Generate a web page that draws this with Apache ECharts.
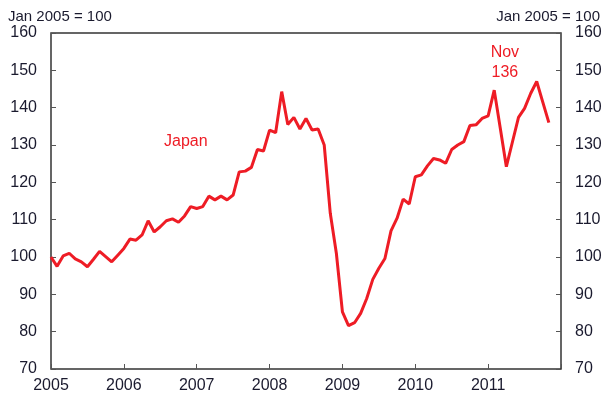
<!DOCTYPE html>
<html>
<head>
<meta charset="utf-8">
<script src="https://cdn.jsdelivr.net/npm/echarts@6/dist/echarts.min.js"></script>
<style>
body{margin:0;background:#fff;}
#chart{width:605px;height:401px;}
</style>
</head>
<body>
<div id="chart"></div>
<script>
// Japan industrial production, monthly from Jan 2005 (index Jan 2005 = 100)
var startYear = 2005;
var v2005 = [100, 97.5, 100.3, 101, 99.5, 98.7, 97.4, 99.4, 101.5, 100.1, 98.7, 100.5];
var v2006 = [102.3, 104.8, 104.5, 105.9, 109.7, 106.7, 108.1, 109.7, 110.2, 109.3, 111, 113.5];
var v2007 = [113, 113.5, 116.3, 115.3, 116.3, 115.3, 116.6, 122.8, 123, 124, 128.8, 128.4];
var v2008 = [134, 133.3, 144.3, 135.5, 137.4, 134.3, 137.1, 134, 134.3, 130, 111.7, 101];
var v2009 = [85.3, 81.6, 82.4, 84.9, 88.9, 94, 97, 99.6, 107, 110.4, 115.5, 114.2];
var v2010 = [121.5, 122, 124.4, 126.4, 126, 125.1, 128.8, 130, 130.9, 135.2, 135.4, 137.1];
var v2011 = [137.8, 144.7, 134.5, 124.2, 130.8, 137.4, 139.8, 143.8, 147, 141.5, 136];
var yTicks = [70, 80, 90, 100, 110, 120, 130, 140, 150, 160];
var unitLabel = "Jan 2005 = 100";

var allValues = [].concat(v2005, v2006, v2007, v2008, v2009, v2010, v2011);
var seriesData = [];
for (var i = 0; i < allValues.length; i++) {
	seriesData.push([i, allValues[i]]);
}

var red = "#ee1c25";
var textColor = "#1a1a2e";
var fontFam = "Liberation Sans, Arial, sans-serif";

var myChart = echarts.init(document.getElementById("chart"));

function yAxisFor(pos) {
	return {
		type: "value",
		position: pos,
		min: yTicks[0],
		max: yTicks[yTicks.length - 1],
		interval: 10,
		splitLine: {show: false},
		axisLine: {show: false},
		axisTick: {show: true, inside: true, length: 5, lineStyle: {color: "#555", width: 1}},
		axisLabel: {margin: 14, color: textColor, fontSize: 16, fontFamily: fontFam}
	};
}

var option = {
	animation: false,
	grid: {
		left: 51,
		right: 44,
		top: 33,
		bottom: 32,
		show: true,
		borderColor: "#333",
		borderWidth: 1.5
	},
	xAxis: {
		type: "value",
		min: 0,
		max: 84,
		interval: 12,
		splitLine: {show: false},
		axisLine: {show: false},
		axisTick: {show: true, inside: true, length: 5, lineStyle: {color: "#555", width: 1}},
		axisLabel: {
			margin: 9,
			color: textColor,
			fontSize: 16,
			fontFamily: fontFam,
			formatter: function (v) {
				return v < 84 ? String(startYear + v / 12) : "";
			}
		}
	},
	yAxis: [yAxisFor("left"), yAxisFor("right")],
	series: [{
		type: "line",
		yAxisIndex: 0,
		data: seriesData,
		symbol: "none",
		lineStyle: {color: red, width: 3},
		markPoint: {
			symbol: "circle",
			symbolSize: 0,
			data: [{
				coord: [allValues.length - 1, allValues[allValues.length - 1]],
				label: {
					show: true,
					formatter: "Nov\n136",
					color: red,
					fontSize: 16,
					fontFamily: fontFam,
					lineHeight: 20,
					align: "center",
					offset: [-44, -60]
				}
			}]
		}
	}],
	graphic: [
		{type: "text", left: 8, top: 9, style: {text: unitLabel, fill: textColor, fontSize: 15, fontFamily: fontFam}},
		{type: "text", right: 5, top: 9, style: {text: unitLabel, fill: textColor, fontSize: 15, fontFamily: fontFam}},
		{type: "text", left: 164, top: 134, style: {text: "Japan", fill: red, fontSize: 16, fontFamily: fontFam}}
	]
};

myChart.setOption(option);
</script>
</body>
</html>
